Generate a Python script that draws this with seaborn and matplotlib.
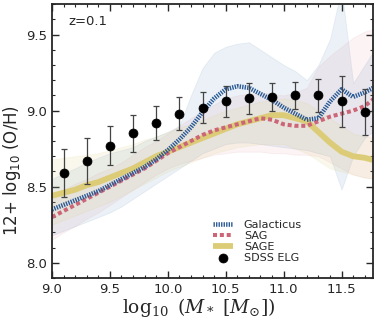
import numpy as np
import matplotlib
matplotlib.use("Agg")
import matplotlib.pyplot as plt
import seaborn as sns

# model grid in log10 stellar mass
mass = [9.0, 9.1, 9.2, 9.3, 9.4, 9.5, 9.6, 9.7, 9.8, 9.9,
        10.0, 10.1, 10.2, 10.3, 10.4, 10.5, 10.6, 10.7, 10.8, 10.9,
        11.0, 11.1, 11.2, 11.3, 11.4, 11.5, 11.6, 11.7, 11.8]

# median relations
gal_med = [8.35, 8.38, 8.41, 8.44, 8.47, 8.51, 8.55, 8.59, 8.63, 8.68,
           8.74, 8.81, 8.89, 8.99, 9.08, 9.14, 9.16, 9.15, 9.11, 9.07,
           9.02, 8.98, 8.94, 8.95, 9.06, 9.14, 9.09, 9.12, 9.16]
sag_med = [8.30, 8.34, 8.38, 8.42, 8.46, 8.50, 8.54, 8.58, 8.62, 8.67,
           8.72, 8.76, 8.80, 8.84, 8.87, 8.89, 8.91, 8.93, 8.95, 8.94,
           8.91, 8.90, 8.90, 8.93, 8.96, 8.98, 9.00, 9.03, 9.09]
sage_med = [8.44, 8.46, 8.48, 8.51, 8.53, 8.56, 8.59, 8.62, 8.66, 8.70,
            8.73, 8.76, 8.79, 8.82, 8.85, 8.88, 8.91, 8.93, 8.95, 8.97,
            8.97, 8.95, 8.93, 8.86, 8.79, 8.73, 8.70, 8.69, 8.67]

# 1-sigma spread of each model
gal_lo = [8.18, 8.21, 8.24, 8.27, 8.30, 8.33, 8.37, 8.42, 8.47, 8.52,
          8.57, 8.62, 8.67, 8.72, 8.75, 8.78, 8.79, 8.79, 8.78, 8.77,
          8.76, 8.75, 8.74, 8.72, 8.70, 8.48, 8.70, 8.82, 8.88]
gal_hi = [8.55, 8.59, 8.62, 8.66, 8.69, 8.72, 8.74, 8.76, 8.80, 8.83,
          8.86, 8.90, 9.10, 9.28, 9.38, 9.42, 9.44, 9.45, 9.40, 9.35,
          9.30, 9.26, 9.20, 9.30, 9.47, 9.80, 9.18, 9.30, 9.42]
sag_lo = [8.15, 8.20, 8.24, 8.29, 8.33, 8.38, 8.43, 8.48, 8.53, 8.58,
          8.62, 8.65, 8.67, 8.69, 8.71, 8.72, 8.73, 8.73, 8.73, 8.72,
          8.72, 8.71, 8.71, 8.70, 8.66, 8.62, 8.58, 8.56, 8.55]
sag_hi = [8.45, 8.48, 8.52, 8.55, 8.59, 8.62, 8.66, 8.71, 8.76, 8.80,
          8.85, 8.90, 8.95, 9.00, 9.04, 9.08, 9.10, 9.11, 9.12, 9.11,
          9.10, 9.12, 9.15, 9.29, 9.36, 9.42, 9.48, 9.52, 9.54]
sage_lo = [8.25, 8.28, 8.31, 8.34, 8.37, 8.40, 8.44, 8.48, 8.52, 8.56,
           8.60, 8.63, 8.66, 8.69, 8.72, 8.74, 8.76, 8.77, 8.78, 8.78,
           8.78, 8.75, 8.72, 8.67, 8.62, 8.60, 8.58, 8.56, 8.55]
sage_hi = [8.68, 8.69, 8.70, 8.71, 8.72, 8.74, 8.76, 8.78, 8.81, 8.83,
           8.86, 8.89, 8.91, 8.94, 8.97, 9.00, 9.02, 9.04, 9.06, 9.07,
           9.08, 9.07, 9.05, 9.00, 8.95, 8.90, 8.85, 8.83, 8.82]

# SDSS emission line galaxies
sdss_mass = [9.1, 9.3, 9.5, 9.7, 9.9, 10.1, 10.3, 10.5, 10.7, 10.9, 11.1, 11.3, 11.5, 11.7]
sdss_oh = [8.59, 8.67, 8.77, 8.85, 8.92, 8.98, 9.02, 9.06, 9.08, 9.09, 9.10, 9.10, 9.06, 8.99]
sdss_err = [0.16, 0.15, 0.13, 0.12, 0.11, 0.11, 0.10, 0.10, 0.10, 0.09, 0.09, 0.11, 0.17, 0.15]

c_gal = "#2a5a96"
c_sag = "#cc6677"
c_sage = "#ddcc77"

sns.set_style("ticks")
plt.rcParams["font.family"] = ["DejaVu Sans"]

fig = plt.figure(figsize=(3.82, 3.18), dpi=100)
ax = fig.add_axes([0.136, 0.126, 0.840, 0.861])

# spread bands
ax.fill_between(mass, gal_lo, gal_hi, color="#4477aa", alpha=0.10, lw=0.6)
ax.fill_between(mass, sag_lo, sag_hi, color=c_sag, alpha=0.08, lw=0.6)
ax.fill_between(mass, sage_lo, sage_hi, color=c_sage, alpha=0.13, lw=0.6)

# model medians
sns.lineplot(x=mass, y=sage_med, ax=ax, color=c_sage, lw=4.2,
             label="SAGE", solid_capstyle="butt")
sns.lineplot(x=mass, y=sag_med, ax=ax, color=c_sag, lw=2.9,
             linestyle=(0, (1.0, 0.7)), label="SAG", dash_capstyle="butt")
sns.lineplot(x=mass, y=gal_med, ax=ax, color=c_gal, lw=3.3,
             linestyle=(0, (0.3, 0.25)), label="Galacticus", dash_capstyle="butt")

# observations
ax.errorbar(sdss_mass, sdss_oh, yerr=sdss_err, fmt="none", ecolor="#444444",
            elinewidth=0.9, capsize=2, capthick=0.9, zorder=4)
sns.scatterplot(x=sdss_mass, y=sdss_oh, ax=ax, color="black", s=42,
                edgecolor="black", linewidth=0.5, label="SDSS ELG", zorder=5)

ax.set_xlim(9.0, 11.77)
ax.set_ylim(7.9, 9.7)
ax.set_xticks([9.0, 9.5, 10.0, 10.5, 11.0, 11.5])
ax.set_yticks([8.0, 8.5, 9.0, 9.5])
ax.xaxis.set_minor_locator(matplotlib.ticker.MultipleLocator(0.1))
ax.yaxis.set_minor_locator(matplotlib.ticker.MultipleLocator(0.1))
ax.tick_params(which="both", direction="in", top=True, right=True, labelsize=9.5)
ax.tick_params(which="major", length=5, width=1)
ax.tick_params(which="minor", length=2.5, width=0.8)
for sp in ax.spines.values():
    sp.set_linewidth(1.3)

ax.set_xlabel(r"$\log_{10}\ (M_*\ [M_{\odot}])$", fontsize=13.5,
              math_fontfamily="dejavuserif")
ax.xaxis.set_label_coords(0.458, -0.066)
ax.set_ylabel(r"12+ log$_{10}$ (O/H)", fontsize=12)
ax.yaxis.set_label_coords(-0.090, 0.394)
ax.text(0.05, 0.935, "z=0.1", transform=ax.transAxes, fontsize=9.5,
        ha="left", va="center")

h, l = ax.get_legend_handles_labels()
order = ["Galacticus", "SAG", "SAGE", "SDSS ELG"]
hd = dict(zip(l, h))
ax.legend([hd[k] for k in order], order, loc="lower left",
          bbox_to_anchor=(0.48, 0.03), frameon=False, fontsize=8,
          handlelength=1.8, handletextpad=1.0, labelspacing=0.1,
          borderaxespad=0.2)

fig.savefig("out.png", dpi=100)
